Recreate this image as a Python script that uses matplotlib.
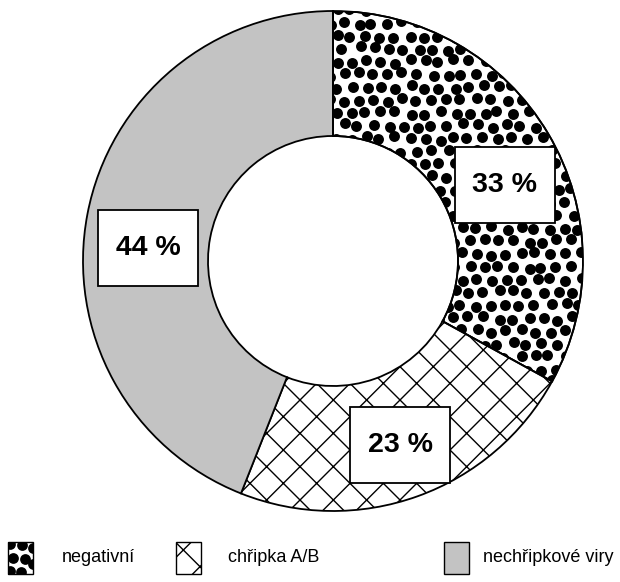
import matplotlib
matplotlib.use("Agg")
import matplotlib.pyplot as plt
from matplotlib.patches import Rectangle, Wedge
import numpy as np

plt.rcParams["font.family"] = ["Liberation Sans", "DejaVu Sans"]
plt.rcParams["hatch.linewidth"] = 1.0

categories = ["negativní", "chřipka A/B", "nechřipkové viry"]
shares = [33, 23, 44]
labels = ["33 %", "23 %", "44 %"]

GRAY = "#c3c3c3"
W, H = 620, 582


def dot_field(x0, x1, y0, y1, step):
    # staggered grid of dots with a fixed, repeatable wobble
    pts = []
    ys = np.arange(y0, y1 + step, step * 0.87)
    for j, y in enumerate(ys):
        xs = np.arange(x0 + (j % 2) * step / 2, x1 + step, step)
        for i, x in enumerate(xs):
            jx = np.sin(i * 12.9898 + j * 78.233) * 43758.5453 % 1 - 0.5
            jy = np.sin(i * 39.3467 + j * 11.135) * 24634.6345 % 1 - 0.5
            pts.append((x + jx * step * 0.35, y + jy * step * 0.35))
    return np.array(pts)


fig = plt.figure(figsize=(W / 100, H / 100), dpi=100)

# donut axes: centre (333, 261) px, outer radius 250 px
R = 250
cx, cy = 333, 261
ax = fig.add_axes([(cx - R) / W, (H - cy - R) / H, 2 * R / W, 2 * R / H])

wedges, _ = ax.pie(
    shares,
    startangle=90,
    counterclock=False,
    radius=1,
    wedgeprops=dict(width=0.5, edgecolor="black", linewidth=1.3),
)
ax.set_xlim(-1, 1)
ax.set_ylim(-1, 1)
ax.axis("off")
wedges[0].set_facecolor("white")
wedges[1].set_facecolor("white")
wedges[1].set_hatch("x")
wedges[2].set_facecolor(GRAY)

# dotted fill for the first wedge
w0 = wedges[0]
pts = dot_field(-1.05, 1.05, -1.05, 1.05, 0.059)
dots = ax.scatter(pts[:, 0], pts[:, 1], s=62, color="black", linewidths=0, zorder=3)
dots.set_clip_path(w0)
# outline of the dotted wedge on top of the dots
ax.add_patch(Wedge(w0.center, w0.r, w0.theta1, w0.theta2, width=w0.width,
                   fill=False, edgecolor="black", linewidth=1.3, zorder=4))

# value boxes, centre offsets in units of the outer radius
label_xy = [(0.688, 0.304), (0.268, -0.736), (-0.74, 0.052)]
bw, bh = 100 / R, 76 / R
for (x, y), txt in zip(label_xy, labels):
    ax.add_patch(Rectangle((x - bw / 2, y - bh / 2), bw, bh, facecolor="white",
                           edgecolor="black", linewidth=1.3, zorder=5))
    ax.text(x, y, txt, ha="center", va="center", fontsize=20.5,
            fontweight="bold", zorder=6)

# legend drawn in pixel coordinates
lax = fig.add_axes([0, 0, 1, 1], zorder=10)
lax.set_xlim(0, W)
lax.set_ylim(H, 0)
lax.axis("off")
lax.patch.set_alpha(0)

box_x = [8, 176, 444]
text_x = [62, 228, 483]
box_y, box_w, box_h = 542, 25, 32
fills = ["dots", "x", GRAY]
for bx, tx, name, fill in zip(box_x, text_x, categories, fills):
    if fill == GRAY:
        box = Rectangle((bx, box_y), box_w, box_h, facecolor=GRAY,
                        edgecolor="black", linewidth=1.0)
        lax.add_patch(box)
    elif fill == "x":
        box = Rectangle((bx, box_y), box_w, box_h, facecolor="white",
                        edgecolor="black", linewidth=1.0, hatch="x")
        lax.add_patch(box)
    else:
        box = Rectangle((bx, box_y), box_w, box_h, facecolor="white",
                        edgecolor="black", linewidth=1.0)
        lax.add_patch(box)
        lp = np.array([[bx + 2, box_y + 2], [bx + 14, box_y + 3], [bx + 25, box_y + 6],
                       [bx + 5, box_y + 16], [bx + 17, box_y + 17], [bx + 25, box_y + 22],
                       [bx + 2, box_y + 29], [bx + 13, box_y + 30]])
        d = lax.scatter(lp[:, 0], lp[:, 1], s=60, color="black", linewidths=0)
        d.set_clip_path(box)
    lax.text(tx, box_y + box_h / 2, name, ha="left", va="center", fontsize=13)

fig.savefig("out.png", dpi=100)
